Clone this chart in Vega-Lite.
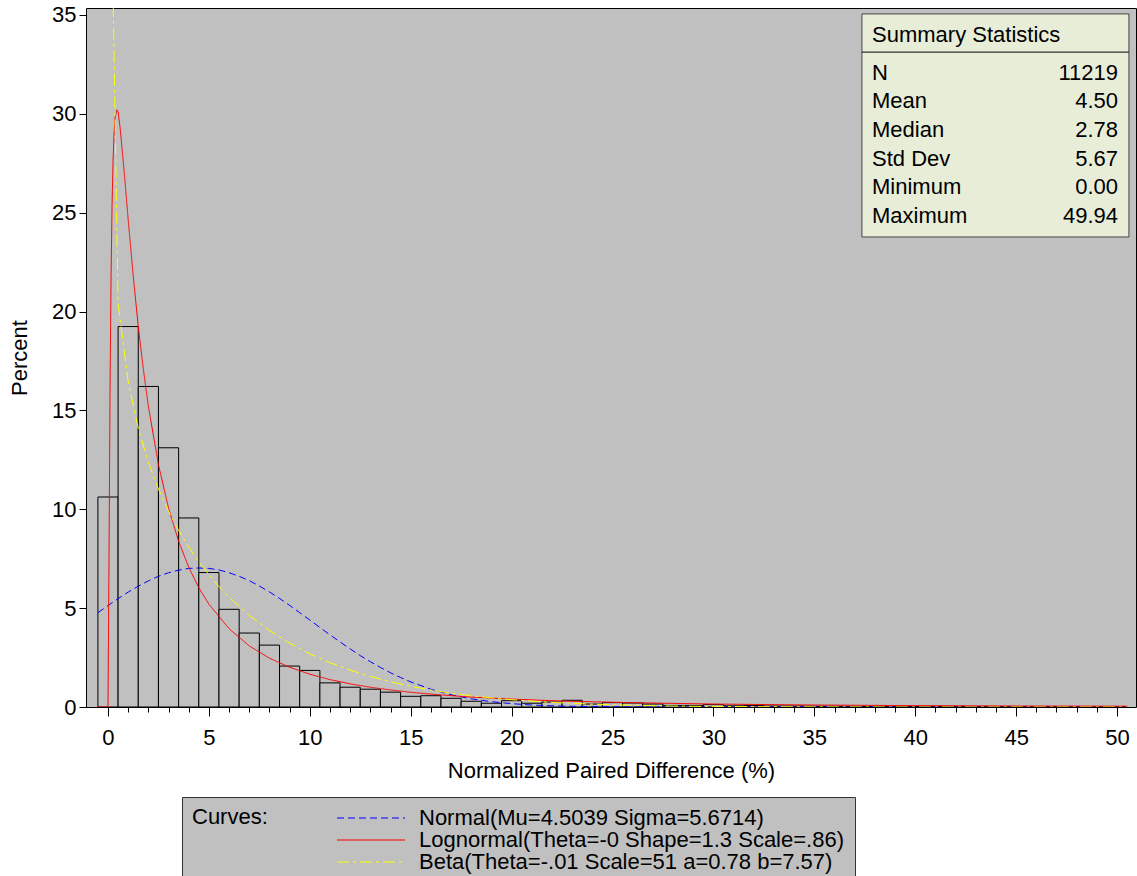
{
  "$schema": "https://vega.github.io/schema/vega-lite/v6.json",
  "width": 1050,
  "height": 699,
  "autosize": {"type": "none"},
  "padding": {"left": 86, "top": 8, "right": 1, "bottom": 169},
  "background": "white",
  "config": {
    "font": "Liberation Sans",
    "view": {"fill": "#C0C0C0", "stroke": "#000000", "strokeWidth": 1},
    "axis": {"labelFont": "Liberation Sans", "labelFontSize": 22, "labelColor": "#000000", "titleFont": "Liberation Sans", "titleFontSize": 22, "titleFontWeight": "normal", "titleColor": "#000000", "domain": false, "grid": false, "tickColor": "#000000", "tickWidth": 1},
    "text": {"font": "Liberation Sans", "fontSize": 22, "color": "#000000"},
    "legend": {"orient": "none", "legendX": 96, "legendY": 789, "direction": "vertical", "titleOrient": "left", "titleAnchor": "start", "titleBaseline": "top", "titlePadding": 92, "titleFontSize": 22, "titleFontWeight": "normal", "titleFont": "Liberation Sans", "titleColor": "#000000", "titleLimit": 200, "symbolType": "M-4,0H4", "symbolSize": 289, "symbolStrokeWidth": 1, "labelOffset": 37, "rowPadding": 0, "padding": 10, "fillColor": "#C0C0C0", "strokeColor": "#333333", "labelFontSize": 22, "labelFont": "Liberation Sans", "labelColor": "#000000", "labelLimit": 800}
  },
  "datasets": {
    "bars": [
      {"lo": -0.5, "hi": 0.5, "pct": 10.62}, {"lo": 0.5, "hi": 1.5, "pct": 19.24}, {"lo": 1.5, "hi": 2.5, "pct": 16.21}, {"lo": 2.5, "hi": 3.5, "pct": 13.11},
      {"lo": 3.5, "hi": 4.5, "pct": 9.56}, {"lo": 4.5, "hi": 5.5, "pct": 6.8}, {"lo": 5.5, "hi": 6.5, "pct": 4.94}, {"lo": 6.5, "hi": 7.5, "pct": 3.74},
      {"lo": 7.5, "hi": 8.5, "pct": 3.13}, {"lo": 8.5, "hi": 9.5, "pct": 2.07}, {"lo": 9.5, "hi": 10.5, "pct": 1.85}, {"lo": 10.5, "hi": 11.5, "pct": 1.22},
      {"lo": 11.5, "hi": 12.5, "pct": 1.0}, {"lo": 12.5, "hi": 13.5, "pct": 0.9}, {"lo": 13.5, "hi": 14.5, "pct": 0.75}, {"lo": 14.5, "hi": 15.5, "pct": 0.54},
      {"lo": 15.5, "hi": 16.5, "pct": 0.57}, {"lo": 16.5, "hi": 17.5, "pct": 0.44}, {"lo": 17.5, "hi": 18.5, "pct": 0.29}, {"lo": 18.5, "hi": 19.5, "pct": 0.19},
      {"lo": 19.5, "hi": 20.5, "pct": 0.32}, {"lo": 20.5, "hi": 21.5, "pct": 0.19}, {"lo": 21.5, "hi": 22.5, "pct": 0.25}, {"lo": 22.5, "hi": 23.5, "pct": 0.34},
      {"lo": 23.5, "hi": 24.5, "pct": 0.15}, {"lo": 24.5, "hi": 25.5, "pct": 0.22}, {"lo": 25.5, "hi": 26.5, "pct": 0.2}, {"lo": 26.5, "hi": 27.5, "pct": 0.15},
      {"lo": 27.5, "hi": 28.5, "pct": 0.08}, {"lo": 28.5, "hi": 29.5, "pct": 0.08}, {"lo": 29.5, "hi": 30.5, "pct": 0.12}, {"lo": 30.5, "hi": 31.5, "pct": 0.06},
      {"lo": 31.5, "hi": 32.5, "pct": 0.08}, {"lo": 32.5, "hi": 33.5, "pct": 0.05}, {"lo": 33.5, "hi": 34.5, "pct": 0.05}, {"lo": 34.5, "hi": 35.5, "pct": 0.04},
      {"lo": 35.5, "hi": 36.5, "pct": 0.04}, {"lo": 36.5, "hi": 37.5, "pct": 0.03}, {"lo": 37.5, "hi": 38.5, "pct": 0.03}, {"lo": 38.5, "hi": 39.5, "pct": 0.02},
      {"lo": 39.5, "hi": 40.5, "pct": 0.02}, {"lo": 40.5, "hi": 41.5, "pct": 0.03}, {"lo": 41.5, "hi": 42.5, "pct": 0.03}, {"lo": 42.5, "hi": 43.5, "pct": 0.02},
      {"lo": 43.5, "hi": 44.5, "pct": 0.02}, {"lo": 44.5, "hi": 45.5, "pct": 0.02}, {"lo": 45.5, "hi": 46.5, "pct": 0.01}, {"lo": 46.5, "hi": 47.5, "pct": 0.02},
      {"lo": 47.5, "hi": 48.5, "pct": 0.01}, {"lo": 48.5, "hi": 49.5, "pct": 0.01}, {"lo": 49.5, "hi": 50.5, "pct": 0.01}
    ],
    "curves": [
      {"curve": "Normal(Mu=4.5039 Sigma=5.6714)", "x": -0.5, "y": 4.77}, {"curve": "Normal(Mu=4.5039 Sigma=5.6714)", "x": 0, "y": 5.13},
      {"curve": "Normal(Mu=4.5039 Sigma=5.6714)", "x": 0.5, "y": 5.48}, {"curve": "Normal(Mu=4.5039 Sigma=5.6714)", "x": 1, "y": 5.81},
      {"curve": "Normal(Mu=4.5039 Sigma=5.6714)", "x": 1.5, "y": 6.11}, {"curve": "Normal(Mu=4.5039 Sigma=5.6714)", "x": 2, "y": 6.38},
      {"curve": "Normal(Mu=4.5039 Sigma=5.6714)", "x": 2.5, "y": 6.61}, {"curve": "Normal(Mu=4.5039 Sigma=5.6714)", "x": 3, "y": 6.79},
      {"curve": "Normal(Mu=4.5039 Sigma=5.6714)", "x": 3.5, "y": 6.92}, {"curve": "Normal(Mu=4.5039 Sigma=5.6714)", "x": 4, "y": 7.01},
      {"curve": "Normal(Mu=4.5039 Sigma=5.6714)", "x": 4.5, "y": 7.03}, {"curve": "Normal(Mu=4.5039 Sigma=5.6714)", "x": 5, "y": 7.01},
      {"curve": "Normal(Mu=4.5039 Sigma=5.6714)", "x": 5.5, "y": 6.93}, {"curve": "Normal(Mu=4.5039 Sigma=5.6714)", "x": 6, "y": 6.79},
      {"curve": "Normal(Mu=4.5039 Sigma=5.6714)", "x": 6.5, "y": 6.61}, {"curve": "Normal(Mu=4.5039 Sigma=5.6714)", "x": 7, "y": 6.39},
      {"curve": "Normal(Mu=4.5039 Sigma=5.6714)", "x": 7.5, "y": 6.12}, {"curve": "Normal(Mu=4.5039 Sigma=5.6714)", "x": 8, "y": 5.82},
      {"curve": "Normal(Mu=4.5039 Sigma=5.6714)", "x": 8.5, "y": 5.49}, {"curve": "Normal(Mu=4.5039 Sigma=5.6714)", "x": 9, "y": 5.14},
      {"curve": "Normal(Mu=4.5039 Sigma=5.6714)", "x": 9.5, "y": 4.77}, {"curve": "Normal(Mu=4.5039 Sigma=5.6714)", "x": 10, "y": 4.4},
      {"curve": "Normal(Mu=4.5039 Sigma=5.6714)", "x": 10.5, "y": 4.02}, {"curve": "Normal(Mu=4.5039 Sigma=5.6714)", "x": 11, "y": 3.65},
      {"curve": "Normal(Mu=4.5039 Sigma=5.6714)", "x": 11.5, "y": 3.29}, {"curve": "Normal(Mu=4.5039 Sigma=5.6714)", "x": 12, "y": 2.94},
      {"curve": "Normal(Mu=4.5039 Sigma=5.6714)", "x": 12.5, "y": 2.6}, {"curve": "Normal(Mu=4.5039 Sigma=5.6714)", "x": 13, "y": 2.29},
      {"curve": "Normal(Mu=4.5039 Sigma=5.6714)", "x": 13.5, "y": 2.0}, {"curve": "Normal(Mu=4.5039 Sigma=5.6714)", "x": 14, "y": 1.73},
      {"curve": "Normal(Mu=4.5039 Sigma=5.6714)", "x": 14.5, "y": 1.49}, {"curve": "Normal(Mu=4.5039 Sigma=5.6714)", "x": 15, "y": 1.27},
      {"curve": "Normal(Mu=4.5039 Sigma=5.6714)", "x": 16, "y": 0.9}, {"curve": "Normal(Mu=4.5039 Sigma=5.6714)", "x": 17, "y": 0.62},
      {"curve": "Normal(Mu=4.5039 Sigma=5.6714)", "x": 18, "y": 0.41}, {"curve": "Normal(Mu=4.5039 Sigma=5.6714)", "x": 19, "y": 0.27},
      {"curve": "Normal(Mu=4.5039 Sigma=5.6714)", "x": 20, "y": 0.17}, {"curve": "Normal(Mu=4.5039 Sigma=5.6714)", "x": 21, "y": 0.1},
      {"curve": "Normal(Mu=4.5039 Sigma=5.6714)", "x": 22, "y": 0.06}, {"curve": "Normal(Mu=4.5039 Sigma=5.6714)", "x": 23, "y": 0.034},
      {"curve": "Normal(Mu=4.5039 Sigma=5.6714)", "x": 24, "y": 0.02}, {"curve": "Normal(Mu=4.5039 Sigma=5.6714)", "x": 26, "y": 0.005},
      {"curve": "Normal(Mu=4.5039 Sigma=5.6714)", "x": 28, "y": 0.001}, {"curve": "Normal(Mu=4.5039 Sigma=5.6714)", "x": 30, "y": 0},
      {"curve": "Normal(Mu=4.5039 Sigma=5.6714)", "x": 50.5, "y": 0},
      {"curve": "Lognormal(Theta=-0 Shape=1.3 Scale=.86)", "x": -0.5, "y": 0}, {"curve": "Lognormal(Theta=-0 Shape=1.3 Scale=.86)", "x": 0, "y": 0},
      {"curve": "Lognormal(Theta=-0 Shape=1.3 Scale=.86)", "x": 0.05, "y": 7.5}, {"curve": "Lognormal(Theta=-0 Shape=1.3 Scale=.86)", "x": 0.1, "y": 15.9},
      {"curve": "Lognormal(Theta=-0 Shape=1.3 Scale=.86)", "x": 0.15, "y": 21.6}, {"curve": "Lognormal(Theta=-0 Shape=1.3 Scale=.86)", "x": 0.2, "y": 25.3},
      {"curve": "Lognormal(Theta=-0 Shape=1.3 Scale=.86)", "x": 0.25, "y": 27.6}, {"curve": "Lognormal(Theta=-0 Shape=1.3 Scale=.86)", "x": 0.3, "y": 29.0},
      {"curve": "Lognormal(Theta=-0 Shape=1.3 Scale=.86)", "x": 0.35, "y": 29.8}, {"curve": "Lognormal(Theta=-0 Shape=1.3 Scale=.86)", "x": 0.44, "y": 30.2},
      {"curve": "Lognormal(Theta=-0 Shape=1.3 Scale=.86)", "x": 0.5, "y": 30.1}, {"curve": "Lognormal(Theta=-0 Shape=1.3 Scale=.86)", "x": 0.6, "y": 29.3},
      {"curve": "Lognormal(Theta=-0 Shape=1.3 Scale=.86)", "x": 0.8, "y": 27.1}, {"curve": "Lognormal(Theta=-0 Shape=1.3 Scale=.86)", "x": 1, "y": 24.65},
      {"curve": "Lognormal(Theta=-0 Shape=1.3 Scale=.86)", "x": 1.25, "y": 21.8}, {"curve": "Lognormal(Theta=-0 Shape=1.3 Scale=.86)", "x": 1.5, "y": 19.24},
      {"curve": "Lognormal(Theta=-0 Shape=1.3 Scale=.86)", "x": 1.75, "y": 17.1}, {"curve": "Lognormal(Theta=-0 Shape=1.3 Scale=.86)", "x": 2, "y": 15.21},
      {"curve": "Lognormal(Theta=-0 Shape=1.3 Scale=.86)", "x": 2.5, "y": 12.26}, {"curve": "Lognormal(Theta=-0 Shape=1.3 Scale=.86)", "x": 3, "y": 10.06},
      {"curve": "Lognormal(Theta=-0 Shape=1.3 Scale=.86)", "x": 3.5, "y": 8.38}, {"curve": "Lognormal(Theta=-0 Shape=1.3 Scale=.86)", "x": 4, "y": 7.07},
      {"curve": "Lognormal(Theta=-0 Shape=1.3 Scale=.86)", "x": 4.5, "y": 6.03}, {"curve": "Lognormal(Theta=-0 Shape=1.3 Scale=.86)", "x": 5, "y": 5.2},
      {"curve": "Lognormal(Theta=-0 Shape=1.3 Scale=.86)", "x": 6, "y": 3.96}, {"curve": "Lognormal(Theta=-0 Shape=1.3 Scale=.86)", "x": 7, "y": 3.09},
      {"curve": "Lognormal(Theta=-0 Shape=1.3 Scale=.86)", "x": 8, "y": 2.47}, {"curve": "Lognormal(Theta=-0 Shape=1.3 Scale=.86)", "x": 9, "y": 2.01},
      {"curve": "Lognormal(Theta=-0 Shape=1.3 Scale=.86)", "x": 10, "y": 1.66}, {"curve": "Lognormal(Theta=-0 Shape=1.3 Scale=.86)", "x": 11, "y": 1.385},
      {"curve": "Lognormal(Theta=-0 Shape=1.3 Scale=.86)", "x": 12, "y": 1.17}, {"curve": "Lognormal(Theta=-0 Shape=1.3 Scale=.86)", "x": 13, "y": 1.0},
      {"curve": "Lognormal(Theta=-0 Shape=1.3 Scale=.86)", "x": 14, "y": 0.86}, {"curve": "Lognormal(Theta=-0 Shape=1.3 Scale=.86)", "x": 15, "y": 0.745},
      {"curve": "Lognormal(Theta=-0 Shape=1.3 Scale=.86)", "x": 16, "y": 0.65}, {"curve": "Lognormal(Theta=-0 Shape=1.3 Scale=.86)", "x": 18, "y": 0.5},
      {"curve": "Lognormal(Theta=-0 Shape=1.3 Scale=.86)", "x": 20, "y": 0.4}, {"curve": "Lognormal(Theta=-0 Shape=1.3 Scale=.86)", "x": 22.5, "y": 0.3},
      {"curve": "Lognormal(Theta=-0 Shape=1.3 Scale=.86)", "x": 25, "y": 0.24}, {"curve": "Lognormal(Theta=-0 Shape=1.3 Scale=.86)", "x": 27.5, "y": 0.19},
      {"curve": "Lognormal(Theta=-0 Shape=1.3 Scale=.86)", "x": 30, "y": 0.15}, {"curve": "Lognormal(Theta=-0 Shape=1.3 Scale=.86)", "x": 35, "y": 0.1},
      {"curve": "Lognormal(Theta=-0 Shape=1.3 Scale=.86)", "x": 40, "y": 0.07}, {"curve": "Lognormal(Theta=-0 Shape=1.3 Scale=.86)", "x": 45, "y": 0.05},
      {"curve": "Lognormal(Theta=-0 Shape=1.3 Scale=.86)", "x": 50.5, "y": 0.04},
      {"curve": "Beta(Theta=-.01 Scale=51 a=0.78 b=7.57)", "x": 0, "y": 51.8}, {"curve": "Beta(Theta=-.01 Scale=51 a=0.78 b=7.57)", "x": 0.5, "y": 20.4},
      {"curve": "Beta(Theta=-.01 Scale=51 a=0.78 b=7.57)", "x": 1, "y": 16.45}, {"curve": "Beta(Theta=-.01 Scale=51 a=0.78 b=7.57)", "x": 1.5, "y": 14.1},
      {"curve": "Beta(Theta=-.01 Scale=51 a=0.78 b=7.57)", "x": 2, "y": 12.38}, {"curve": "Beta(Theta=-.01 Scale=51 a=0.78 b=7.57)", "x": 2.5, "y": 11.02},
      {"curve": "Beta(Theta=-.01 Scale=51 a=0.78 b=7.57)", "x": 3, "y": 9.9}, {"curve": "Beta(Theta=-.01 Scale=51 a=0.78 b=7.57)", "x": 3.5, "y": 8.93},
      {"curve": "Beta(Theta=-.01 Scale=51 a=0.78 b=7.57)", "x": 4, "y": 8.09}, {"curve": "Beta(Theta=-.01 Scale=51 a=0.78 b=7.57)", "x": 4.5, "y": 7.35},
      {"curve": "Beta(Theta=-.01 Scale=51 a=0.78 b=7.57)", "x": 5, "y": 6.69}, {"curve": "Beta(Theta=-.01 Scale=51 a=0.78 b=7.57)", "x": 5.5, "y": 6.09},
      {"curve": "Beta(Theta=-.01 Scale=51 a=0.78 b=7.57)", "x": 6, "y": 5.56}, {"curve": "Beta(Theta=-.01 Scale=51 a=0.78 b=7.57)", "x": 7, "y": 4.63},
      {"curve": "Beta(Theta=-.01 Scale=51 a=0.78 b=7.57)", "x": 8, "y": 3.87}, {"curve": "Beta(Theta=-.01 Scale=51 a=0.78 b=7.57)", "x": 9, "y": 3.23},
      {"curve": "Beta(Theta=-.01 Scale=51 a=0.78 b=7.57)", "x": 10, "y": 2.69}, {"curve": "Beta(Theta=-.01 Scale=51 a=0.78 b=7.57)", "x": 11, "y": 2.24},
      {"curve": "Beta(Theta=-.01 Scale=51 a=0.78 b=7.57)", "x": 12, "y": 1.864}, {"curve": "Beta(Theta=-.01 Scale=51 a=0.78 b=7.57)", "x": 13, "y": 1.545},
      {"curve": "Beta(Theta=-.01 Scale=51 a=0.78 b=7.57)", "x": 14, "y": 1.275}, {"curve": "Beta(Theta=-.01 Scale=51 a=0.78 b=7.57)", "x": 15, "y": 1.05},
      {"curve": "Beta(Theta=-.01 Scale=51 a=0.78 b=7.57)", "x": 16, "y": 0.86}, {"curve": "Beta(Theta=-.01 Scale=51 a=0.78 b=7.57)", "x": 17, "y": 0.7},
      {"curve": "Beta(Theta=-.01 Scale=51 a=0.78 b=7.57)", "x": 18, "y": 0.568}, {"curve": "Beta(Theta=-.01 Scale=51 a=0.78 b=7.57)", "x": 19, "y": 0.46},
      {"curve": "Beta(Theta=-.01 Scale=51 a=0.78 b=7.57)", "x": 20, "y": 0.369}, {"curve": "Beta(Theta=-.01 Scale=51 a=0.78 b=7.57)", "x": 22, "y": 0.233},
      {"curve": "Beta(Theta=-.01 Scale=51 a=0.78 b=7.57)", "x": 24, "y": 0.143}, {"curve": "Beta(Theta=-.01 Scale=51 a=0.78 b=7.57)", "x": 26, "y": 0.085},
      {"curve": "Beta(Theta=-.01 Scale=51 a=0.78 b=7.57)", "x": 28, "y": 0.048}, {"curve": "Beta(Theta=-.01 Scale=51 a=0.78 b=7.57)", "x": 30, "y": 0.026},
      {"curve": "Beta(Theta=-.01 Scale=51 a=0.78 b=7.57)", "x": 35, "y": 0.005}, {"curve": "Beta(Theta=-.01 Scale=51 a=0.78 b=7.57)", "x": 40, "y": 0.0005},
      {"curve": "Beta(Theta=-.01 Scale=51 a=0.78 b=7.57)", "x": 50.5, "y": 0}
    ],
    "stats": [
      {"stat": "N", "value": "11219"},
      {"stat": "Mean", "value": "4.50"},
      {"stat": "Median", "value": "2.78"},
      {"stat": "Std Dev", "value": "5.67"},
      {"stat": "Minimum", "value": "0.00"},
      {"stat": "Maximum", "value": "49.94"}
    ]
  },
  "layer": [
    {
      "data": {"name": "bars"},
      "mark": {"type": "rect", "fill": "#C0C0C0", "stroke": "#000000", "strokeWidth": 1},
      "encoding": {
        "x": {"field": "lo", "type": "quantitative", "scale": {"domain": [-1.09, 50.94], "nice": false, "zero": false},
          "axis": {"orient": "bottom", "values": [0, 5, 10, 15, 20, 25, 30, 35, 40, 45, 50], "tickSize": 9, "labelPadding": 11, "labelFlush": false, "labelOverlap": false, "title": "Normalized Paired Difference (%)", "titlePadding": 12}},
        "x2": {"field": "hi"},
        "y": {"field": "pct", "type": "quantitative", "scale": {"domain": [0, 35.35], "nice": false, "zero": false},
          "axis": {"orient": "left", "values": [0, 5, 10, 15, 20, 25, 30, 35], "tickSize": 7, "labelPadding": 3, "labelFlush": false, "labelOverlap": false, "title": "Percent", "titlePadding": 20}},
        "y2": {"datum": 0}
      }
    },
    {
      "data": {"name": "curves"},
      "mark": {"type": "line", "clip": true, "strokeWidth": 1},
      "encoding": {
        "x": {"field": "x", "type": "quantitative",
          "axis": {"orient": "bottom", "values": [0, 1, 2, 3, 4, 5, 6, 7, 8, 9, 10, 11, 12, 13, 14, 15, 16, 17, 18, 19, 20, 21, 22, 23, 24, 25, 26, 27, 28, 29, 30, 31, 32, 33, 34, 35, 36, 37, 38, 39, 40, 41, 42, 43, 44, 45, 46, 47, 48, 49, 50], "tickSize": 5, "labels": false, "title": null, "domain": false}},
        "y": {"field": "y", "type": "quantitative"},
        "color": {"field": "curve", "type": "nominal",
          "scale": {"domain": ["Normal(Mu=4.5039 Sigma=5.6714)", "Lognormal(Theta=-0 Shape=1.3 Scale=.86)", "Beta(Theta=-.01 Scale=51 a=0.78 b=7.57)"], "range": ["#0000FF", "#FF0000", "#FFFF00"]},
          "legend": {"title": "Curves:"}},
        "strokeDash": {"field": "curve", "type": "nominal",
          "scale": {"domain": ["Normal(Mu=4.5039 Sigma=5.6714)", "Lognormal(Theta=-0 Shape=1.3 Scale=.86)", "Beta(Theta=-.01 Scale=51 a=0.78 b=7.57)"], "range": [[7, 4], [1, 0], [12, 4, 3, 4]]},
          "legend": {"title": "Curves:"}}
      }
    },
    {
      "data": {"values": [{"box": "stats"}]},
      "mark": {"type": "rect", "fill": "#E8EDD8", "stroke": "#444444", "strokeWidth": 1},
      "encoding": {
        "x": {"datum": 37.36, "type": "quantitative", "axis": null},
        "x2": {"datum": 50.59},
        "y": {"datum": 35.05, "type": "quantitative"},
        "y2": {"datum": 23.77}
      }
    },
    {
      "data": {"values": [{"box": "stats"}]},
      "mark": {"type": "rule", "stroke": "#000000", "strokeWidth": 1},
      "encoding": {
        "x": {"datum": 37.36, "type": "quantitative", "axis": null},
        "x2": {"datum": 50.59},
        "y": {"datum": 33.12, "type": "quantitative"}
      }
    },
    {
      "data": {"values": [{"t": "Summary Statistics"}]},
      "mark": {"type": "text", "align": "left", "baseline": "middle", "fontSize": 22},
      "encoding": {
        "x": {"datum": 37.86, "type": "quantitative", "axis": null},
        "y": {"datum": 33.98, "type": "quantitative"},
        "text": {"field": "t"}
      }
    },
    {
      "data": {"name": "stats"},
      "mark": {"type": "text", "align": "left", "baseline": "middle", "fontSize": 22},
      "encoding": {
        "x": {"datum": 37.86, "type": "quantitative", "axis": null},
        "y": {"datum": 32.07, "type": "quantitative"},
        "yOffset": {"field": "stat", "type": "nominal", "sort": null, "scale": {"type": "point", "range": [0, 143], "padding": 0}},
        "text": {"field": "stat"}
      }
    },
    {
      "data": {"name": "stats"},
      "mark": {"type": "text", "align": "right", "baseline": "middle", "fontSize": 22},
      "encoding": {
        "x": {"datum": 50.05, "type": "quantitative", "axis": null},
        "y": {"datum": 32.07, "type": "quantitative"},
        "yOffset": {"field": "stat", "type": "nominal", "sort": null, "scale": {"type": "point", "range": [0, 143], "padding": 0}},
        "text": {"field": "value"}
      }
    }
  ],
  "resolve": {"axis": {"x": "independent"}}
}
